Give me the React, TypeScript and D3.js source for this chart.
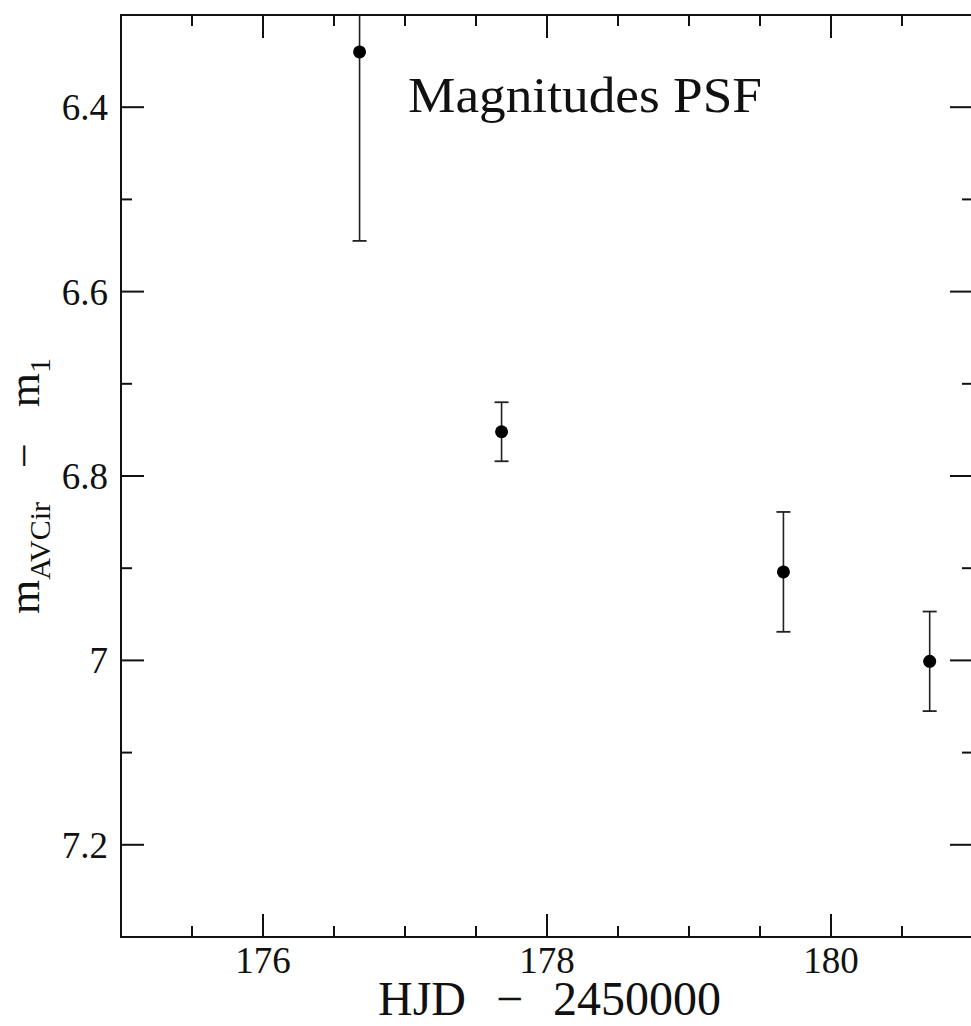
import React from "react";
import * as d3 from "d3";

const hjd = [176.68, 177.68, 179.665, 180.695];
const mag = [6.34, 6.752, 6.904, 7.001];
const err = [0.205, 0.032, 0.065, 0.054];

const xMajor = [176, 178, 180];
const yMajor = [6.4, 6.6, 6.8, 7.0, 7.2];
const yLabels = ["6.4", "6.6", "6.8", "7", "7.2"];

const W = 971;
const H = 1026;
const M = { left: 121, top: 15, right: 973, bottom: 937 };
const FONT = "'Liberation Serif', 'Times New Roman', serif";

export default function App() {
  const x = d3.scaleLinear().domain([175, 181]).range([M.left, M.right]);
  const y = d3.scaleLinear().domain([6.3, 7.3]).range([M.top, M.bottom]);

  const xMinor = d3.range(175, 181.001, 0.5).filter((v) => !xMajor.some((m) => Math.abs(m - v) < 1e-6));
  const yMinor = d3.range(6.3, 7.3001, 0.1).filter((v) => !yMajor.some((m) => Math.abs(m - v) < 1e-6));

  const maj = 23;
  const min = 11;
  const sw = 2;

  return (
    <div style={{ position: "absolute", left: 0, top: 0 }}>
      <svg width={W} height={H} style={{ display: "block", background: "#fff" }}>
        <defs>
          <clipPath id="plotclip">
            <rect x={M.left} y={M.top} width={M.right - M.left} height={M.bottom - M.top} />
          </clipPath>
        </defs>
        {/* frame */}
        <rect
          x={M.left}
          y={M.top}
          width={M.right - M.left}
          height={M.bottom - M.top}
          fill="none"
          stroke="#111"
          strokeWidth={sw}
        />
        {/* x ticks bottom & top */}
        {xMajor.map((v) => (
          <g key={"xm" + v}>
            <line x1={x(v)} x2={x(v)} y1={M.bottom} y2={M.bottom - maj} stroke="#111" strokeWidth={sw} />
            <line x1={x(v)} x2={x(v)} y1={M.top} y2={M.top + maj} stroke="#111" strokeWidth={sw} />
          </g>
        ))}
        {xMinor.map((v) => (
          <g key={"xn" + v}>
            <line x1={x(v)} x2={x(v)} y1={M.bottom} y2={M.bottom - min} stroke="#111" strokeWidth={sw} />
            <line x1={x(v)} x2={x(v)} y1={M.top} y2={M.top + min} stroke="#111" strokeWidth={sw} />
          </g>
        ))}
        {/* y ticks left & right */}
        {yMajor.map((v) => (
          <g key={"ym" + v}>
            <line x1={M.left} x2={M.left + maj} y1={y(v)} y2={y(v)} stroke="#111" strokeWidth={sw} />
            <line x1={M.right} x2={M.right - maj} y1={y(v)} y2={y(v)} stroke="#111" strokeWidth={sw} />
          </g>
        ))}
        {yMinor.map((v) => (
          <g key={"yn" + v}>
            <line x1={M.left} x2={M.left + min} y1={y(v)} y2={y(v)} stroke="#111" strokeWidth={sw} />
            <line x1={M.right} x2={M.right - min} y1={y(v)} y2={y(v)} stroke="#111" strokeWidth={sw} />
          </g>
        ))}
        {/* tick labels */}
        {xMajor.map((v) => (
          <text key={"xl" + v} x={x(v)} y={973} textAnchor="middle" fontFamily={FONT} fontSize={37} fill="#111">
            {String(v)}
          </text>
        ))}
        {yMajor.map((v, i) => (
          <text
            key={"yl" + v}
            x={108}
            y={y(v) + 13}
            textAnchor="end"
            fontFamily={FONT}
            fontSize={37}
            fill="#111"
          >
            {yLabels[i]}
          </text>
        ))}
        {/* data */}
        <g clipPath="url(#plotclip)">
          {hjd.map((h, i) => {
            const cx = x(h);
            const y0 = y(mag[i] - err[i]);
            const y1 = y(mag[i] + err[i]);
            return (
              <g key={"p" + i}>
                <line x1={cx} x2={cx} y1={y0} y2={y1} stroke="#222" strokeWidth={1.6} />
                <line x1={cx - 7} x2={cx + 7} y1={y0} y2={y0} stroke="#222" strokeWidth={1.8} />
                <line x1={cx - 7} x2={cx + 7} y1={y1} y2={y1} stroke="#222" strokeWidth={1.8} />
                <circle cx={cx} cy={y(mag[i])} r={6.5} fill="#000" />
              </g>
            );
          })}
        </g>
        {/* annotation */}
        <text x={408} y={112} fontFamily={FONT} fontSize={50} fill="#111" textLength={354} lengthAdjust="spacingAndGlyphs">
          Magnitudes PSF
        </text>
        {/* x axis title */}
        <text x={378} y={1015} fontFamily={FONT} fontSize={48} fill="#111">
          <tspan>HJD</tspan>
          <tspan dx={30}>−</tspan>
          <tspan dx={30}>2450000</tspan>
        </text>
        {/* y axis title */}
        <text
          transform={`translate(39, 614) rotate(-90)`}
          fontFamily={FONT}
          fontSize={44}
          fill="#111"
        >
          <tspan>m</tspan>
          <tspan fontSize={30} dy={11}>AVCir</tspan>
          <tspan dy={-11} dx={34}>−</tspan>
          <tspan dx={36}>m</tspan>
          <tspan fontSize={30} dy={11}>1</tspan>
        </text>
      </svg>
    </div>
  );
}
